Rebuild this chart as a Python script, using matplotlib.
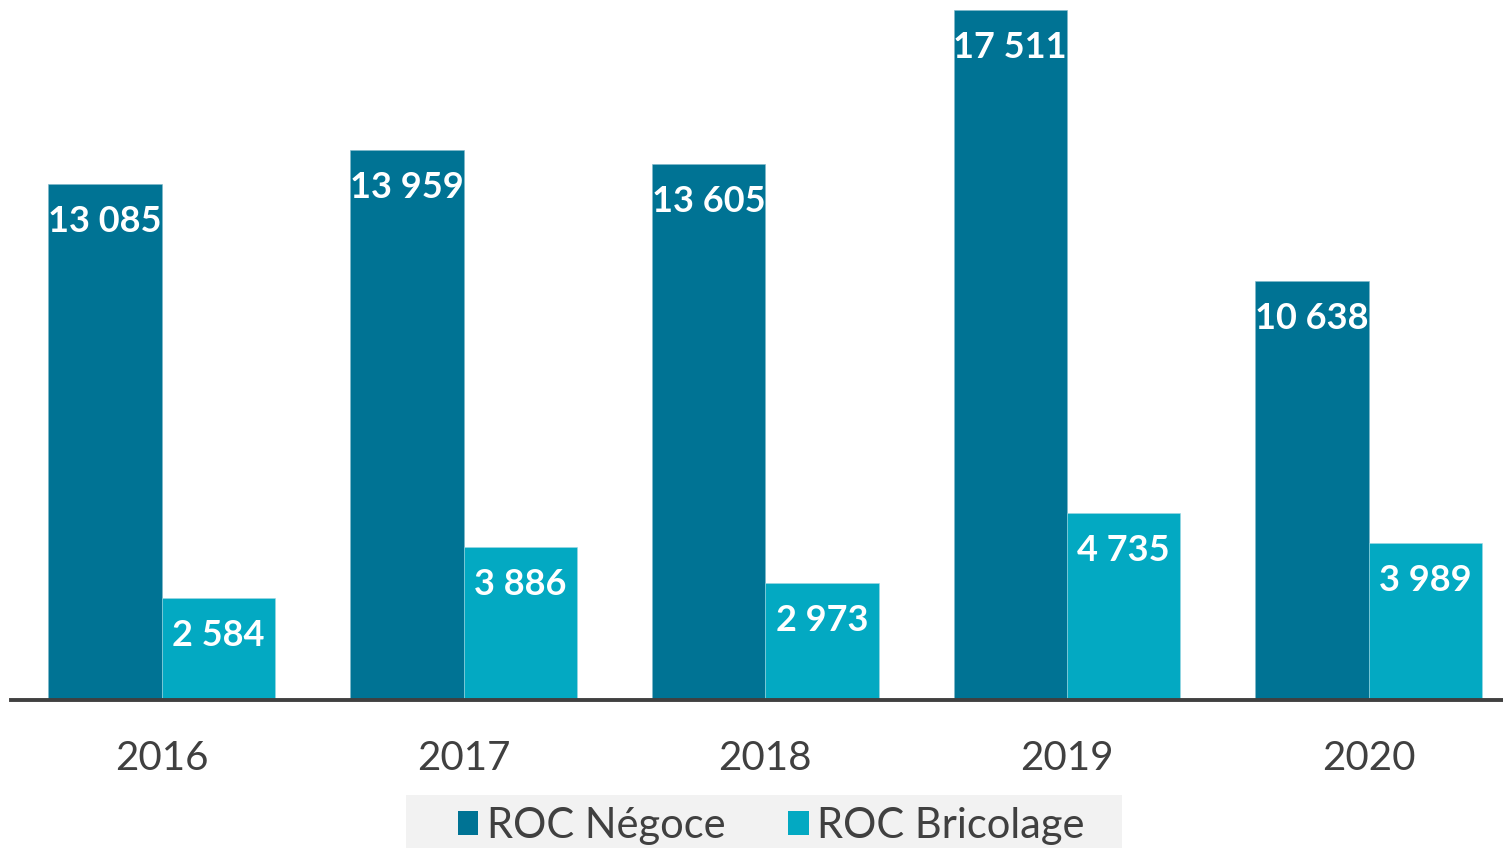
import numpy as np
import matplotlib
matplotlib.use('Agg')
import matplotlib.pyplot as plt
from matplotlib.patches import Patch, Rectangle

# ---- data ----
years = ['2016', '2017', '2018', '2019', '2020']
roc_negoce = [13085, 13959, 13605, 17511, 10638]
roc_bricolage = [2584, 3886, 2973, 4735, 3989]
series_names = ['ROC Négoce', 'ROC Bricolage']

dark = '#007394'
light = '#03A9C2'
grey = '#404040'

plt.rcParams['font.family'] = ['Lato', 'DejaVu Sans']

fig = plt.figure(figsize=(15.03, 8.48), dpi=100)
ax = fig.add_axes([11 / 1503, 148 / 848, 1492 / 1503, 700 / 848])

x = np.arange(len(years))
w = 0.376

b1 = ax.bar(x - w / 2, roc_negoce, width=w, color=dark, edgecolor='#7fb8c9', linewidth=0.4)
b2 = ax.bar(x + w / 2, roc_bricolage, width=w, color=light, edgecolor='#9fd8e2', linewidth=0.4)

def fmt(v):
    return f"{v:,}".replace(',', ' ')

for bars, vals in ((b1, roc_negoce), (b2, roc_bricolage)):
    for rect, v in zip(bars, vals):
        ax.annotate(fmt(v), (rect.get_x() + rect.get_width() / 2, v),
                    xytext=(0, -27), textcoords='offset points',
                    ha='center', va='center', color='white',
                    fontsize=26, fontweight='bold')

ax.set_xlim(-0.5, 4.445)
ax.set_ylim(0, 17765)
for s in ('top', 'right', 'left'):
    ax.spines[s].set_visible(False)
ax.spines['bottom'].set_color(grey)
ax.spines['bottom'].set_linewidth(2.8)
ax.set_yticks([])
ax.set_xticks(x)
ax.set_xticklabels(years, fontsize=29, color=grey)
ax.tick_params(axis='x', length=0, pad=29)

# legend background box
fig.patches.append(Rectangle((406 / 1503, 0), 716 / 1503, 53 / 848,
                             transform=fig.transFigure, facecolor='#F2F2F2',
                             edgecolor='none', zorder=0))
handles = [Patch(facecolor=dark, label=series_names[0]),
           Patch(facecolor=light, label=series_names[1])]
leg = fig.legend(handles=handles, loc='center', bbox_to_anchor=(771 / 1503, 22 / 848),
                 ncol=2, frameon=False, fontsize=30, handlelength=0.5, handleheight=0.5,
                 handletextpad=0.2, columnspacing=1.5, borderpad=0.0)
for t in leg.get_texts():
    t.set_color(grey)

fig.savefig('out.png', dpi=100)
